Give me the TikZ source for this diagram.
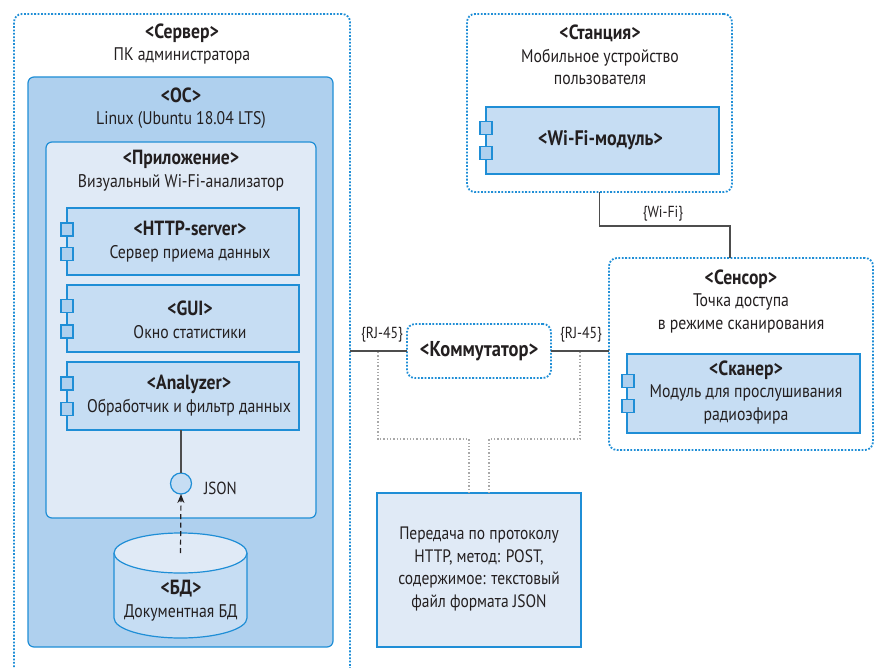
\documentclass[tikz,border=0pt]{standalone}
\usepackage{fontspec}
\setmainfont[FakeStretch=0.86]{PT Sans}
\usetikzlibrary{arrows.meta,calc}
\definecolor{edge}{HTML}{1F8ED6}
\definecolor{osfill}{HTML}{AFD0EE}
\definecolor{compfill}{HTML}{C6DDF3}
\definecolor{lightfill}{HTML}{E0EAF6}
\definecolor{ink}{HTML}{231F20}
\definecolor{wire}{HTML}{4D4D4D}
\definecolor{hint}{HTML}{A8A8A8}
% bold stereotype line of a box title
\newcommand{\stereo}[1]{{\fontsize{20.5}{23}\selectfont\bfseries #1}}
\begin{document}
\begin{tikzpicture}[x=1pt,y=-1pt,
  every node/.style={inner sep=0pt,outer sep=0pt},
  dotbox/.style={draw=edge,line width=1.8pt,dash pattern=on 1.8pt off 1.6pt,rounded corners=8pt},
  solidbox/.style={draw=edge,line width=1.2pt,rounded corners=6pt},
  comp/.style={draw=edge,fill=compfill,line width=1.2pt},
  port/.style={draw=edge,fill=osfill,line width=1.2pt,minimum width=12pt,minimum height=13pt},
  lbl/.style={text=ink,align=center,font=\fontsize{18.3}{22.6}\selectfont},
  tag/.style={text=ink,font=\fontsize{16}{18}\selectfont},
  link/.style={draw=wire,line width=1.3pt},
  hintline/.style={draw=hint,line width=1.2pt,dash pattern=on 1.3pt off 2pt},
  dasharrow/.style={draw=ink,line width=1.2pt,dash pattern=on 5pt off 3.5pt,-{Stealth[length=9pt,width=7pt]}}]
\useasboundingbox (0,0) rectangle (874,668);
\clip (0,0) rectangle (874,668);

% ---------- server side ----------
\node[dotbox,minimum width=336pt,minimum height=686pt] (server) at (182,357) {};
\node[lbl] (serverT) at (182,44) {\stereo{<Сервер>}\\ПК администратора};
\node[solidbox,fill=osfill,minimum width=305pt,minimum height=570pt] (os) at (180.5,362) {};
\node[lbl] (osT) at (181,108) {\stereo{<ОС>}\\Linux (Ubuntu 18.04 LTS)};
\node[solidbox,fill=lightfill,minimum width=270pt,minimum height=376pt] (app) at (181,330) {};
\node[lbl] (appT) at (181,170.5) {\stereo{<Приложение>}\\Визуальный Wi-Fi-анализатор};

% components inside the application
\node[comp,minimum width=232pt,minimum height=67pt] (http) at (183,241.5) {};
\node[port] (httpP1) at (67,229.5) {};
\node[port] (httpP2) at (67,254) {};
\node[lbl] (httpT) at (190,241.5) {\stereo{<HTTP-server>}\\Сервер приема данных};

\node[comp,minimum width=232pt,minimum height=67pt] (gui) at (183,318.5) {};
\node[port] (guiP1) at (67,306) {};
\node[port] (guiP2) at (67,331.5) {};
\node[lbl] (guiT) at (190,320) {\stereo{<GUI>}\\Окно статистики};

\node[comp,minimum width=232pt,minimum height=68pt] (analyzer) at (183,396) {};
\node[port] (anP1) at (67,383.5) {};
\node[port] (anP2) at (67,409) {};
\node[lbl] (anT) at (189,395.5) {\stereo{<Analyzer>}\\Обработчик и фильтр данных};

% provided interface
\node[circle,draw=edge,fill=compfill,line width=1.2pt,minimum size=21pt] (json) at (181,483.5) {};
\node[tag,anchor=west,font=\fontsize{17.5}{19}\selectfont] (jsonT) at (204,488) {JSON};
\draw[link] (json.north |- analyzer.south) -- (json.north);

% document database
\fill[compfill] (114,553) -- (114,618)
  arc[start angle=180,end angle=360,x radius=66.5pt,y radius=20pt] -- (247,553) -- cycle;
\draw[edge,line width=1.2pt] (114,553) -- (114,618)
  arc[start angle=180,end angle=360,x radius=66.5pt,y radius=20pt] -- (247,553);
\draw[edge,fill=lightfill,line width=1.2pt] (180.5,553) ellipse[x radius=66.5pt,y radius=20pt];
\coordinate (dbtop) at (180.5,553);
\node[lbl] (dbT) at (181,600.5) {\stereo{<БД>}\\Документная БД};
\draw[dasharrow] (dbtop) -- (json.south);

% ---------- switch ----------
\node[dotbox,fill=white,minimum width=144pt,minimum height=54pt,font=\fontsize{21.5}{23}\selectfont\bfseries,text=ink] (sw) at (479,351) {<Коммутатор>};
\draw[link] (server.east |- sw.west) -- (sw.west);
\node[tag] (rjL) at (382,335) {\{RJ-45\}};

% ---------- station ----------
\node[dotbox,minimum width=265pt,minimum height=178pt] (station) at (599.5,103) {};
\node[lbl] (stationT) at (600,55) {\stereo{<Станция>}\\Мобильное устройство\\пользователя};
\node[comp,minimum width=233pt,minimum height=67pt] (wifi) at (602.5,140.5) {};
\node[port] (wifiP1) at (486,128) {};
\node[port] (wifiP2) at (486,153) {};
\node[lbl,font=\fontsize{21}{23}\selectfont\bfseries] (wifiT) at (600.5,140) {<Wi-Fi-модуль>};

% ---------- sensor ----------
\node[dotbox,minimum width=264pt,minimum height=192pt] (sensor) at (741,354) {};
\node[lbl] (sensorT) at (741,301.5) {\stereo{<Сенсор>}\\Точка доступа\\в режиме сканирования};
\node[comp,minimum width=233pt,minimum height=79pt] (scan) at (743.5,393.5) {};
\node[port] (scanP1) at (628,381) {};
\node[port] (scanP2) at (628,406) {};
\node[lbl] (scanT) at (746,392.5) {\stereo{<Сканер>}\\Модуль для прослушивания\\радиоэфира};

% wireless link between station and sensor
\coordinate (wfbend) at (730,226);
\draw[link] (station.south) |- (wfbend) -- (wfbend |- sensor.north);
\node[tag] (wifiL) at (663,214) {\{Wi-Fi\}};

% wired link switch -> sensor
\draw[link] (sw.east) -- (sw.east -| sensor.west);
\node[tag] (rjR) at (581,335) {\{RJ-45\}};

% ---------- note on the wired links ----------
\node[draw=edge,fill=lightfill,line width=1.2pt,minimum width=204pt,minimum height=154pt] (note) at (479,570) {};
\node[lbl,font=\fontsize{18}{22.7}\selectfont] (noteT) at (479,569) {Передача по протоколу\\HTTP, метод: POST,\\содержимое: текстовый\\файл формата JSON};
\coordinate (hl) at (378,352);
\coordinate (hr) at (580,352);
\draw[hintline] (hl) |- (469,439) -- (469,439 |- note.north);
\draw[hintline] (hr) |- (489,439) -- (489,439 |- note.north);
\end{tikzpicture}
\end{document}
